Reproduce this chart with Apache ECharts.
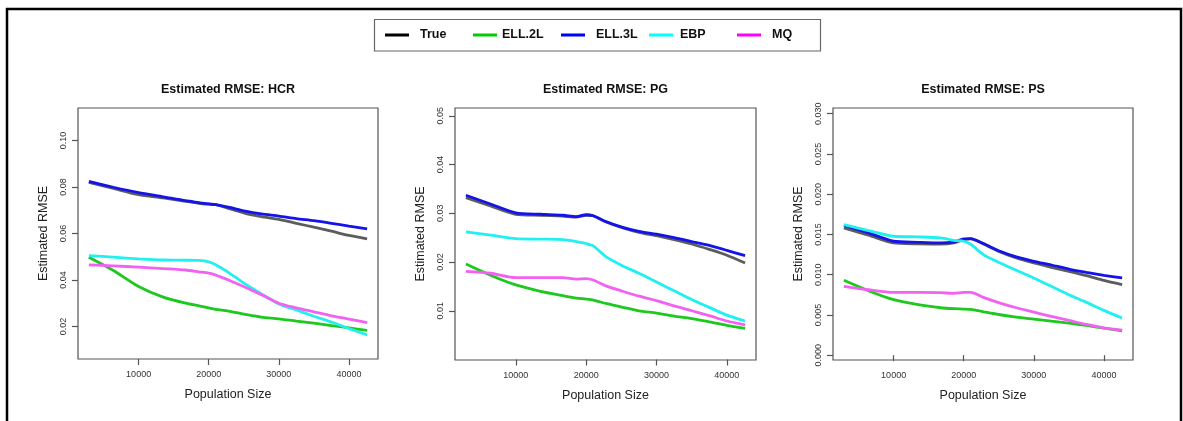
<!DOCTYPE html>
<html>
<head>
<meta charset="utf-8">
<script src="https://cdn.jsdelivr.net/npm/echarts@6/dist/echarts.min.js"></script>
<style>
  html, body { margin: 0; padding: 0; background: #fff; }
  #chart { width: 1183px; height: 421px; }
</style>
</head>
<body>
<div id="chart"></div>
<script>
// Population sizes at which the estimates are evaluated
const popSize = [2900, 6400, 10000, 13500, 16700, 18600, 20000, 21000, 22800, 25200, 27500, 30000, 32500, 35000, 37500, 40000, 42600];

const seriesNames = ['True', 'ELL.2L', 'ELL.3L', 'EBP', 'MQ'];

// HCR
const hcrTrue = [0.0820, 0.0794, 0.0767, 0.0753, 0.0738, 0.0730, 0.0726, 0.0724, 0.0708, 0.0687, 0.0673, 0.0661, 0.0644, 0.0627, 0.0610, 0.0592, 0.0577];
const hcrEll2 = [0.0498, 0.0441, 0.0372, 0.0326, 0.0300, 0.0289, 0.0280, 0.0274, 0.0266, 0.0252, 0.0240, 0.0233, 0.0223, 0.0214, 0.0204, 0.0194, 0.0183];
const hcrEll3 = [0.0824, 0.0799, 0.0776, 0.0758, 0.0741, 0.0733, 0.0727, 0.0724, 0.0713, 0.0696, 0.0684, 0.0675, 0.0664, 0.0655, 0.0644, 0.0632, 0.0620];
const hcrEbp  = [0.0505, 0.0498, 0.0491, 0.0486, 0.0485, 0.0484, 0.0478, 0.0466, 0.0433, 0.0383, 0.0340, 0.0297, 0.0271, 0.0244, 0.0219, 0.0191, 0.0164];
const hcrMq   = [0.0465, 0.0461, 0.0455, 0.0449, 0.0443, 0.0435, 0.0429, 0.0421, 0.0400, 0.0369, 0.0337, 0.0300, 0.0280, 0.0263, 0.0246, 0.0232, 0.0217];

// PG
const pgTrue = [0.0332, 0.0315, 0.0298, 0.0296, 0.0294, 0.0292, 0.0296, 0.0295, 0.0282, 0.0270, 0.0261, 0.0254, 0.0246, 0.0237, 0.0226, 0.0214, 0.0198];
const pgEll2 = [0.0196, 0.0173, 0.0153, 0.0140, 0.0131, 0.0126, 0.0124, 0.0122, 0.0115, 0.0107, 0.0100, 0.0095, 0.0089, 0.0084, 0.0077, 0.0070, 0.0064];
const pgEll3 = [0.0337, 0.0319, 0.0301, 0.0298, 0.0296, 0.0293, 0.0297, 0.0295, 0.0283, 0.0271, 0.0263, 0.0257, 0.0250, 0.0242, 0.0234, 0.0224, 0.0213];
const pgEbp  = [0.0262, 0.0255, 0.0248, 0.0247, 0.0246, 0.0242, 0.0238, 0.0233, 0.0211, 0.0192, 0.0177, 0.0159, 0.0141, 0.0123, 0.0107, 0.0091, 0.0079];
const pgMq   = [0.0181, 0.0177, 0.0168, 0.0168, 0.0168, 0.0165, 0.0166, 0.0163, 0.0151, 0.0140, 0.0130, 0.0121, 0.0110, 0.0100, 0.0090, 0.0079, 0.0071];

// PS
const psTrue = [0.01581, 0.01490, 0.01394, 0.01382, 0.01378, 0.01394, 0.01436, 0.01444, 0.01382, 0.01282, 0.01207, 0.01145, 0.01091, 0.01041, 0.00988, 0.00929, 0.00876];
const psEll2 = [0.00930, 0.00801, 0.00689, 0.00627, 0.00589, 0.00577, 0.00573, 0.00568, 0.00539, 0.00502, 0.00473, 0.00448, 0.00423, 0.00398, 0.00369, 0.00336, 0.00303];
const psEll3 = [0.01614, 0.01519, 0.01415, 0.01402, 0.01394, 0.01407, 0.01444, 0.01448, 0.01386, 0.01290, 0.01220, 0.01166, 0.01120, 0.01070, 0.01029, 0.00992, 0.00959];
const psEbp  = [0.01622, 0.01548, 0.01477, 0.01469, 0.01456, 0.01427, 0.01415, 0.01378, 0.01249, 0.01145, 0.01054, 0.00959, 0.00855, 0.00751, 0.00656, 0.00556, 0.00461];
const psMq   = [0.00855, 0.00813, 0.00780, 0.00780, 0.00776, 0.00768, 0.00780, 0.00780, 0.00718, 0.00647, 0.00589, 0.00535, 0.00481, 0.00432, 0.00382, 0.00340, 0.00311];

// Tick values
const xTicks = [10000, 20000, 30000, 40000];
const yTicksHCR = [0.02, 0.04, 0.06, 0.08, 0.10];
const yTicksPG = [0.01, 0.02, 0.03, 0.04, 0.05];
const yTicksPS = [0.000, 0.005, 0.010, 0.015, 0.020, 0.025, 0.030];

const panelTitles = ['Estimated RMSE: HCR', 'Estimated RMSE: PG', 'Estimated RMSE: PS'];

// Line colours in the plots and in the legend
const lineColors = ['#5c5c5c', '#1ec81e', '#1414e8', '#20f0f0', '#f262f2'];
const legendColors = ['#000000', '#00cd00', '#0000ff', '#00ffff', '#ff00ff'];

const panelValues = [
  [hcrTrue, hcrEll2, hcrEll3, hcrEbp, hcrMq],
  [pgTrue, pgEll2, pgEll3, pgEbp, pgMq],
  [psTrue, psEll2, psEll3, psEbp, psMq]
];
const panelYTicks = [yTicksHCR, yTicksPG, yTicksPS];
const panelYDecimals = [2, 2, 3];
const panelYRange = [[0.006, 0.114], [-0.0001, 0.0516], [-0.0006, 0.0307]];

const grids = [
  { left: 78, top: 108, width: 300, height: 251 },
  { left: 455, top: 108, width: 301, height: 252 },
  { left: 833, top: 108, width: 300, height: 252 }
];

// legend entries: line start and gap between line and label
const legendLeft = [385, 473, 561, 649, 737];
const legendTextPad = [6, 0, 6, 2, 6];

const FONT = '"Liberation Sans", Arial, Helvetica, sans-serif';
const axisGrey = '#555555';

const option = {
  animation: false,
  backgroundColor: '#ffffff',
  textStyle: { fontFamily: FONT },
  title: grids.map((g, i) => ({
    text: panelTitles[i],
    left: g.left + g.width / 2,
    top: 82,
    padding: 0,
    textAlign: 'center',
    textStyle: { fontFamily: FONT, fontWeight: 'bold', fontSize: 12.5, color: '#111', lineHeight: 15 }
  })),
  legend: seriesNames.map((name, i) => ({
    data: [{ name: name, itemStyle: { color: legendColors[i] } }],
    left: legendLeft[i],
    top: 28,
    padding: 0,
    icon: 'rect',
    itemWidth: 24,
    itemHeight: 3,
    itemGap: 0,
    textStyle: { fontFamily: FONT, fontWeight: 'bold', fontSize: 12.5, color: '#111', lineHeight: 14, padding: [0, 0, 0, legendTextPad[i]] }
  })),
  grid: grids.map(g => Object.assign({ show: true, borderColor: axisGrey, borderWidth: 1.2, backgroundColor: 'transparent', containLabel: false }, g)),
  xAxis: grids.map((g, i) => ({
    type: 'value',
    gridIndex: i,
    min: 1350,
    max: 44150,
    name: 'Population Size',
    nameLocation: 'middle',
    nameGap: 29,
    nameTextStyle: { fontFamily: FONT, fontSize: 12.5, color: '#222' },
    axisLine: { show: false },
    splitLine: { show: false },
    axisTick: { show: true, length: 6, customValues: xTicks, lineStyle: { color: axisGrey, width: 1.2 } },
    axisLabel: {
      show: true,
      customValues: xTicks,
      margin: 11,
      fontFamily: FONT,
      fontSize: 9,
      color: '#333',
      formatter: v => String(v)
    }
  })),
  yAxis: grids.map((g, i) => ({
    type: 'value',
    gridIndex: i,
    min: panelYRange[i][0],
    max: panelYRange[i][1],
    name: 'Estimated RMSE',
    nameLocation: 'middle',
    nameGap: 28,
    nameRotate: 90,
    nameTextStyle: { fontFamily: FONT, fontSize: 12.5, color: '#222' },
    axisLine: { show: false },
    splitLine: { show: false },
    axisTick: { show: true, length: 6, customValues: panelYTicks[i], lineStyle: { color: axisGrey, width: 1.2 } },
    axisLabel: {
      show: true,
      customValues: panelYTicks[i],
      rotate: 90,
      margin: 10,
      fontFamily: FONT,
      fontSize: 9,
      color: '#333',
      formatter: v => Number(v).toFixed(panelYDecimals[i])
    }
  })),
  series: [],
  graphic: [
    // outer frame
    {
      type: 'rect',
      shape: { x: 7, y: 9, width: 1174, height: 500 },
      style: { fill: 'none', stroke: '#000', lineWidth: 2.5 },
      silent: true,
      z: 100
    },
    // legend box
    {
      type: 'rect',
      shape: { x: 374.5, y: 19.5, width: 446, height: 31.5 },
      style: { fill: 'none', stroke: '#666', lineWidth: 1.2 },
      silent: true,
      z: 100
    }
  ]
};

panelValues.forEach((vals, p) => {
  vals.forEach((arr, s) => {
    option.series.push({
      type: 'line',
      name: seriesNames[s],
      xAxisIndex: p,
      yAxisIndex: p,
      data: popSize.map((x, k) => [x, arr[k]]),
      showSymbol: false,
      symbol: 'none',
      smooth: 0.25,
      itemStyle: { color: legendColors[s] },
      lineStyle: { color: lineColors[s], width: 2.8 },
      z: 2 + s
    });
  });
});

const chart = echarts.init(document.getElementById('chart'), null, { renderer: 'canvas' });
chart.setOption(option);
</script>
</body>
</html>
